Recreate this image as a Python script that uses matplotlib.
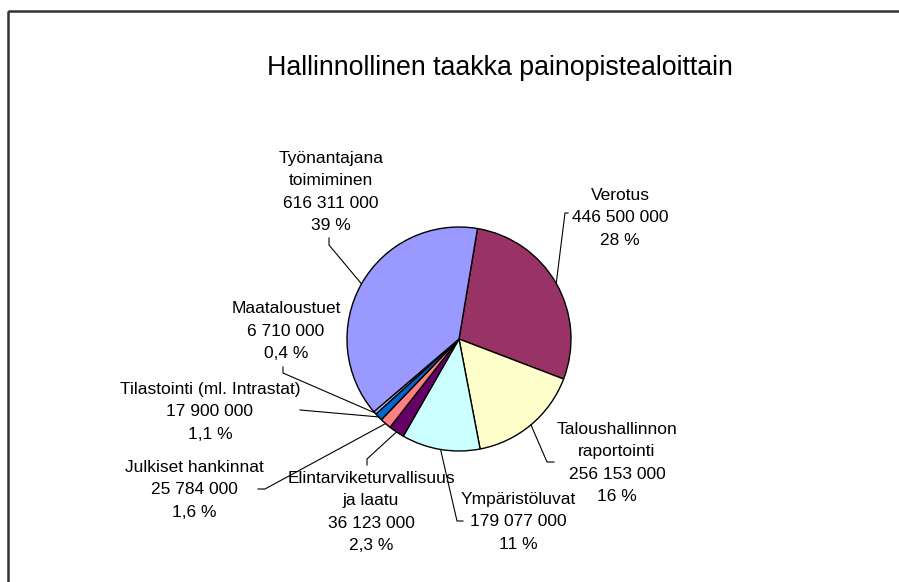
import numpy as np
import matplotlib
matplotlib.use('Agg')
import matplotlib.pyplot as plt
from matplotlib.patches import Rectangle

plt.rcParams['font.family'] = ['Liberation Sans', 'DejaVu Sans']

# data, in drawing order (clockwise from the top)
names = ['Verotus', 'Taloushallinnon\nraportointi', 'Ympäristöluvat',
         'Elintarviketurvallisuus\nja laatu', 'Julkiset hankinnat',
         'Tilastointi (ml. Intrastat)', 'Maataloustuet',
         'Työnantajana\ntoimiminen']
values = [446500000, 256153000, 179077000, 36123000, 25784000,
          17900000, 6710000, 616311000]
colors = ['#993366', '#FFFFCC', '#CCFFFF', '#660066', '#FF8080',
          '#0066CC', '#CCCCFF', '#9999FF']
title = 'Hallinnollinen taakka painopistealoittain'

# layout (pixel coords, y down)
W, H = 899, 582
center = (459, 339)
radius = 112
label_pos = [(620, 218), (617, 463), (518, 522), (371, 512),
             (194, 490), (210, 412), (286, 331), (331, 192)]
# leader line: edge -> elbow -> end
elbows = [((565, 213), (568, 213)), ((547, 462), (554, 462)),
          ((457, 521), (463, 521)), ((367, 459), (367, 465)),
          ((265, 489), (258, 489)), ((300, 410), (300, 410)),
          ((283, 373), (283, 367)), ((329, 245), (329, 238))]


def fmt_label(name, v, total):
    pct = 100.0 * v / total
    num = '{:,}'.format(v).replace(',', ' ')
    if pct >= 10:
        p = '%d %%' % round(pct)
    else:
        p = ('%.1f %%' % pct).replace('.', ',')
    return name + '\n' + num + '\n' + p


fig = plt.figure(figsize=(W / 100, H / 100), dpi=100)
ax = fig.add_axes([0, 0, 1, 1])

wedges, _ = ax.pie(values, colors=colors, startangle=-80.5,
                   counterclock=True, center=center, radius=radius,
                   wedgeprops=dict(edgecolor='black', linewidth=1.0),
                   frame=True)
ax.set_xlim(0, W)
ax.set_ylim(H, 0)  # y down, so angles run clockwise on screen
ax.set_aspect('equal')
ax.axis('off')

# frame
ax.add_patch(Rectangle((8, 11), W + 20, H + 20, fill=False,
                       ec='#333333', lw=1.8))

total = sum(values)
for i, w in enumerate(wedges):
    ang = np.deg2rad((w.theta1 + w.theta2) / 2)
    ex = center[0] + radius * np.cos(ang)
    ey = center[1] + radius * np.sin(ang)
    (bx, by), (cx, cy) = elbows[i]
    ax.plot([ex, bx, cx], [ey, by, cy], color='black', lw=0.8)
    x, y = label_pos[i]
    ax.text(x, y, fmt_label(names[i], values[i], total), ha='center',
            va='center', fontsize=12.5, linespacing=1.6, color='black')

ax.text(500, 68, title, ha='center', va='center', fontsize=19.3)

plt.savefig('out.png', dpi=100)
plt.close()
